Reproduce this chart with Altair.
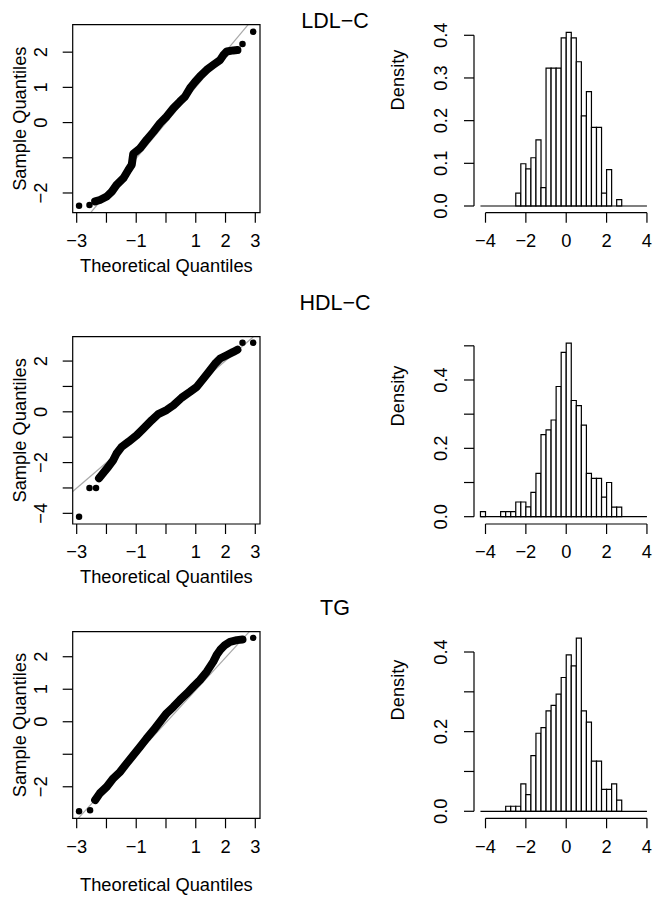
import altair as alt
import pandas as pd

FONT = "Liberation Sans"

# ---------------- data ----------------
TITLES = ["LDL\u2212C", "HDL\u2212C", "TG"]

# QQ plots: theoretical quantiles / sample quantiles (read along the point band)
QQ_LDL_X = [-2.92, -2.57, -2.38, -2.22, -1.99, -1.82, -1.66, -1.43, -1.26, -1.15, -1.10, -0.87, -0.65, -0.42,
            -0.20, 0.02, 0.25, 0.47, 0.64, 0.81, 0.98, 1.14, 1.37, 1.59, 1.82, 1.93, 2.04, 2.26, 2.40, 2.57, 2.93]
QQ_LDL_Y = [-2.36, -2.34, -2.24, -2.20, -2.10, -1.96, -1.77, -1.58, -1.34, -1.20, -0.89, -0.73, -0.49, -0.26,
            -0.02, 0.17, 0.41, 0.60, 0.74, 0.98, 1.16, 1.31, 1.50, 1.64, 1.78, 1.92, 2.02, 2.05, 2.06, 2.23, 2.58]
QQ_HDL_X = [-2.92, -2.57, -2.35, -2.25, -2.10, -1.94, -1.77, -1.66, -1.49, -1.26, -0.98, -0.76, -0.48, -0.26,
            0.02, 0.25, 0.53, 0.81, 1.03, 1.26, 1.48, 1.65, 1.82, 2.04, 2.26, 2.40, 2.57, 2.93]
QQ_HDL_Y = [-4.13, -3.00, -3.00, -2.62, -2.40, -2.17, -1.90, -1.64, -1.38, -1.18, -0.92, -0.66, -0.33, -0.09,
            0.07, 0.26, 0.56, 0.79, 0.98, 1.31, 1.64, 1.90, 2.10, 2.23, 2.36, 2.45, 2.72, 2.72]
QQ_TG_X = [-2.92, -2.55, -2.38, -2.22, -1.99, -1.77, -1.54, -1.32, -1.10, -0.87, -0.65, -0.42, -0.20, 0.02,
           0.25, 0.47, 0.70, 0.92, 1.14, 1.37, 1.59, 1.70, 1.82, 1.98, 2.15, 2.38, 2.57, 2.93]
QQ_TG_Y = [-2.75, -2.72, -2.41, -2.20, -2.00, -1.74, -1.54, -1.28, -1.03, -0.77, -0.51, -0.26, 0.00, 0.26,
           0.46, 0.67, 0.87, 1.08, 1.28, 1.54, 1.85, 2.05, 2.21, 2.36, 2.46, 2.51, 2.53, 2.58]
# number of isolated points at the low / high end (outside the dense band)
QQ_ISOLATED = [(2, 2), (3, 2), (2, 1)]

# qqline end points (theoretical, sample)
QQLINE_X = [[-2.53, 2.76], [-3.134, 2.93], [-2.95, 2.80]]
QQLINE_Y = [[-2.56, 2.78], [-3.14, 2.95], [-2.97, 2.77]]

# histograms (density, bin width 0.25)
BIN_WIDTH = 0.25
BREAKS_RANGE = [-4.25, 4.0]
H_LDL_START = [-2.5, -2.25, -2.0, -1.75, -1.5, -1.25, -1.0, -0.75, -0.5, -0.25, 0.0, 0.25, 0.5, 0.75,
               1.0, 1.25, 1.5, 1.75, 2.0, 2.5]
H_LDL_DENS = [0.030, 0.099, 0.087, 0.113, 0.155, 0.043, 0.323, 0.323, 0.323, 0.394, 0.407, 0.394, 0.338,
              0.211, 0.268, 0.184, 0.184, 0.030, 0.085, 0.015]
H_HDL_START = [-4.25, -3.25, -3.0, -2.75, -2.5, -2.25, -2.0, -1.75, -1.5, -1.25, -1.0, -0.75, -0.5, -0.25,
               0.0, 0.25, 0.5, 0.75, 1.0, 1.25, 1.5, 1.75, 2.0, 2.25, 2.5]
H_HDL_DENS = [0.015, 0.015, 0.015, 0.015, 0.043, 0.043, 0.029, 0.071, 0.127, 0.240, 0.254, 0.283, 0.381,
              0.481, 0.508, 0.340, 0.325, 0.268, 0.127, 0.112, 0.112, 0.057, 0.100, 0.028, 0.028]
H_TG_START = [-3.0, -2.75, -2.5, -2.25, -2.0, -1.75, -1.5, -1.25, -1.0, -0.75, -0.5, -0.25, 0.0, 0.25,
              0.5, 0.75, 1.0, 1.25, 1.5, 1.75, 2.0, 2.25, 2.5]
H_TG_DENS = [0.0126, 0.0126, 0.0126, 0.069, 0.042, 0.140, 0.196, 0.210, 0.252, 0.266, 0.294, 0.336, 0.393,
             0.365, 0.435, 0.252, 0.224, 0.126, 0.126, 0.055, 0.055, 0.069, 0.028]

# axes ticks / labels
QQ_XTICKS = [-3, -2, -1, 0, 1, 2, 3]
QQ_XLABELS = [-3, -1, 1, 2, 3]
QQ_YTICKS = [[-2, -1, 0, 1, 2], [-4, -3, -2, -1, 0, 1, 2], [-2, -1, 0, 1, 2]]
QQ_YLABELS = [[-2, 0, 1, 2], [-4, -2, 0, 2], [-2, 0, 1, 2]]
H_XTICKS = [-4, -2, 0, 2, 4]
H_YTICKS = [[0, 0.1, 0.2, 0.3, 0.4], [0, 0.1, 0.2, 0.3, 0.4, 0.5], [0, 0.1, 0.2, 0.3, 0.4]]
H_YLABELS = [[0, 0.1, 0.2, 0.3, 0.4], [0, 0.2, 0.4], [0, 0.2, 0.4]]

# scale domains
QQ_XDOM = [-3.134, 3.158]
QQ_YDOM = [[-2.56, 2.78], [-4.42, 2.96], [-2.97, 2.77]]
H_XDOM = [-4.57, 4.30]
H_YDOM = [[-0.0157, 0.4248], [-0.0214, 0.5267], [-0.0176, 0.451]]

# ---------------- layout (page pixels) ----------------
PAGE_MARGIN = 8
PLOT_LEFT = 72.7
PLOT_TOP = 24.7
ROW_TOP = [24.7, 336.7, 631.7]
ROW_BOTTOM = [212.7, 524.0, 818.3]
QQ_RIGHT = 260.0
HIST_LEFT = 474.0
HIST_RIGHT = 653.0
W = HIST_RIGHT - PLOT_LEFT
H = ROW_BOTTOM[-1] - PLOT_TOP
TITLE_X = 335.0
TITLE_BASE_Y = [27.6, 310.0, 615.0]
TITLE_SIZE = 21.5
XTITLE_DY = [59.3, 59.3, 73.0]
YTITLE_X = 25.5
DENSITY_X = 404.0
DENSITY_Y = [80.0, 396.0, 690.0]
TICK = 10
XLAB_DY = 34.3
YLAB_DX = 25.4
HYLAB_DX = 27.3
LBL = 18.3

qq_x = [QQ_LDL_X, QQ_HDL_X, QQ_TG_X]
qq_y = [QQ_LDL_Y, QQ_HDL_Y, QQ_TG_Y]
h_start = [H_LDL_START, H_HDL_START, H_TG_START]
h_dens = [H_LDL_DENS, H_HDL_DENS, H_TG_DENS]

TEXT = dict(font=FONT, fontSize=LBL, color="black")


def x_axis(xs, ticks, labels, bot, fmt):
    """bottom axis: ticks + labels, positioned by the panel's x scale"""
    t = alt.Chart(pd.DataFrame({"v": ticks})).mark_rule(color="black", strokeWidth=1.2).encode(
        x=alt.X("v:Q", scale=xs, axis=None), y=alt.value(bot), y2=alt.value(bot + TICK))
    l = alt.Chart(pd.DataFrame({"v": labels})).mark_text(
        align="center", baseline="alphabetic", **TEXT).encode(
        x=alt.X("v:Q", scale=xs, axis=None), y=alt.value(bot + XLAB_DY),
        text=alt.Text("v:Q", format=fmt))
    return [t, l]


def y_axis(ys, ticks, labels, left, dx, fmt):
    """left axis: ticks + rotated labels, positioned by the panel's y scale"""
    t = alt.Chart(pd.DataFrame({"v": ticks})).mark_rule(color="black", strokeWidth=1.2).encode(
        y=alt.Y("v:Q", scale=ys, axis=None), x=alt.value(left), x2=alt.value(left - TICK))
    l = alt.Chart(pd.DataFrame({"v": labels})).mark_text(
        align="center", baseline="alphabetic", angle=270, **TEXT).encode(
        y=alt.Y("v:Q", scale=ys, axis=None), x=alt.value(left - dx),
        text=alt.Text("v:Q", format=fmt))
    return [t, l]


def label(txt, x, y, angle=0, size=LBL):
    return alt.Chart(pd.DataFrame({"t": [txt]})).mark_text(
        align="center", baseline="alphabetic", angle=angle, font=FONT, fontSize=size, color="black").encode(
        text="t:N", x=alt.value(x), y=alt.value(y))


def qq_panel(i):
    top = ROW_TOP[i] - PLOT_TOP
    bot = ROW_BOTTOM[i] - PLOT_TOP
    qw = QQ_RIGHT - PLOT_LEFT
    xs = alt.Scale(domain=QQ_XDOM, range=[0, qw], nice=False, zero=False)
    ys = alt.Scale(domain=QQ_YDOM[i], range=[bot, top], nice=False, zero=False)
    lo, hi = QQ_ISOLATED[i]
    n = len(qq_x[i])
    df = pd.DataFrame({"tq": qq_x[i], "sq": qq_y[i],
                       "band": [lo <= k < n - hi for k in range(n)]})
    pts = alt.Chart(df).mark_circle(size=42, color="black", opacity=1).encode(
        x=alt.X("tq:Q", scale=xs, axis=None), y=alt.Y("sq:Q", scale=ys, axis=None))
    band = alt.Chart(df).transform_filter("datum.band").mark_line(
        color="black", strokeWidth=8, strokeCap="round", strokeJoin="round").encode(
        x=alt.X("tq:Q", scale=xs, axis=None), y=alt.Y("sq:Q", scale=ys, axis=None), order="tq:Q")
    ldf = pd.DataFrame({"tq": QQLINE_X[i], "sq": QQLINE_Y[i]})
    qql = alt.Chart(ldf).mark_line(color="#a8a8a8", strokeWidth=1.2).encode(
        x=alt.X("tq:Q", scale=xs, axis=None), y=alt.Y("sq:Q", scale=ys, axis=None))
    bdf = pd.DataFrame({"x0": [QQ_XDOM[0]], "x1": [QQ_XDOM[1]], "y0": [QQ_YDOM[i][0]], "y1": [QQ_YDOM[i][1]]})
    box = alt.Chart(bdf).mark_rect(fillOpacity=0, stroke="black", strokeWidth=1.2).encode(
        x=alt.X("x0:Q", scale=xs, axis=None), x2="x1:Q",
        y=alt.Y("y0:Q", scale=ys, axis=None), y2="y1:Q")
    layers = [qql, band, pts, box]
    layers += x_axis(xs, QQ_XTICKS, QQ_XLABELS, bot, "d")
    layers += y_axis(ys, QQ_YTICKS[i], QQ_YLABELS[i], 0, YLAB_DX, "d")
    layers.append(label("Theoretical Quantiles", qw / 2, bot + XTITLE_DY[i]))
    layers.append(label("Sample Quantiles", YTITLE_X - PLOT_LEFT, (top + bot) / 2, angle=270))
    layers.append(label(TITLES[i], TITLE_X - PLOT_LEFT, TITLE_BASE_Y[i] - PLOT_TOP, size=TITLE_SIZE))
    return alt.layer(*layers)


def hist_panel(i):
    top = ROW_TOP[i] - PLOT_TOP
    bot = ROW_BOTTOM[i] - PLOT_TOP
    hl = HIST_LEFT - PLOT_LEFT
    xs = alt.Scale(domain=H_XDOM, range=[hl, HIST_RIGHT - PLOT_LEFT], nice=False, zero=False)
    ys = alt.Scale(domain=H_YDOM[i], range=[bot, top], nice=False, zero=False)
    df = pd.DataFrame({"start": h_start[i], "dens": h_dens[i]})
    bars = alt.Chart(df).transform_calculate(end="datum.start + %s" % BIN_WIDTH, zero="0").mark_rect(
        fill="white", stroke="black", strokeWidth=1.2).encode(
        x=alt.X("start:Q", scale=xs, axis=None), x2="end:Q",
        y=alt.Y("zero:Q", scale=ys, axis=None), y2="dens:Q")
    base_df = pd.DataFrame({"a": [BREAKS_RANGE[0]], "b": [BREAKS_RANGE[1]], "y": [0.0]})
    base = alt.Chart(base_df).mark_rule(color="black", strokeWidth=1.2).encode(
        x=alt.X("a:Q", scale=xs, axis=None), x2="b:Q", y=alt.Y("y:Q", scale=ys, axis=None))
    xl_df = pd.DataFrame({"a": [H_XTICKS[0]], "b": [H_XTICKS[-1]], "y": [H_YDOM[i][0]]})
    xline = alt.Chart(xl_df).mark_rule(color="black", strokeWidth=1.2).encode(
        x=alt.X("a:Q", scale=xs, axis=None), x2="b:Q", y=alt.Y("y:Q", scale=ys, axis=None))
    yl_df = pd.DataFrame({"x": [H_XDOM[0]], "a": [H_YTICKS[i][0]], "b": [H_YTICKS[i][-1]]})
    yline = alt.Chart(yl_df).mark_rule(color="black", strokeWidth=1.2).encode(
        x=alt.X("x:Q", scale=xs, axis=None), y=alt.Y("a:Q", scale=ys, axis=None), y2="b:Q")
    layers = [bars, base, xline, yline]
    layers += x_axis(xs, H_XTICKS, H_XTICKS, bot, "d")
    layers += y_axis(ys, H_YTICKS[i], H_YLABELS[i], hl, HYLAB_DX, ".1f")
    layers.append(label("Density", DENSITY_X - PLOT_LEFT, DENSITY_Y[i] - PLOT_TOP, angle=270))
    return alt.layer(*layers)


panels = []
for i in range(3):
    panels.append(qq_panel(i))
    panels.append(hist_panel(i))

chart = alt.layer(*panels).resolve_scale(x="independent", y="independent").properties(
    width=W, height=H,
    autosize=alt.AutoSizeParams(type="none"),
    padding={"left": PLOT_LEFT - PAGE_MARGIN, "top": PLOT_TOP - PAGE_MARGIN, "right": 0, "bottom": 82},
    background="white",
).configure_view(stroke=None)

chart.save("out.html", embed_options={"renderer": "svg", "actions": False})
